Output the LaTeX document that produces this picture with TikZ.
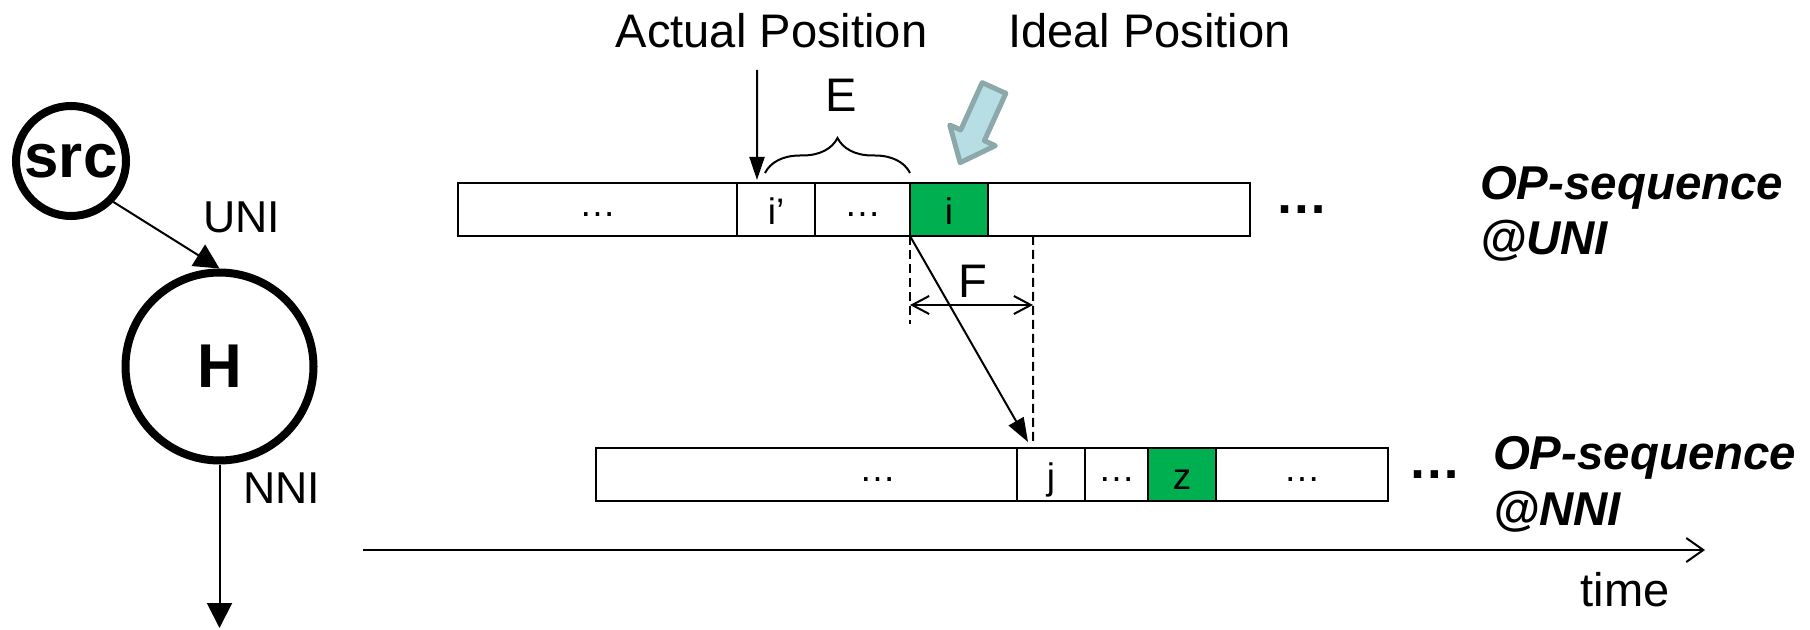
\documentclass[tikz,border=0pt]{standalone}
\usepackage{fontspec}
\setmainfont{Liberation Sans}
\usepackage{tikz}
\usetikzlibrary{arrows.meta, positioning, decorations.pathreplacing}

\definecolor{opgreen}{RGB}{0,176,80}
\definecolor{hintfill}{RGB}{183,222,228}
\definecolor{hintline}{RGB}{140,168,170}

\newcommand{\skipped}{\raisebox{0.08cm}{…}}

\begin{document}
\begin{tikzpicture}[line width=0.02cm, font=\fontsize{13.4pt}{16pt}\selectfont,
		hop/.style={draw, circle, line width=0.08cm, inner sep=0pt, font=\fontsize{17.6pt}{20pt}\selectfont\bfseries},
		port/.style={inner sep=0pt, font=\fontsize{12.7pt}{15pt}\selectfont},
		cell/.style={draw, rectangle, minimum height=0.53cm, inner sep=0pt, outer sep=0pt, text height=0.3cm, text depth=0pt, font=\fontsize{10.5pt}{12pt}\selectfont},
		hit/.style={cell, fill=opgreen},
		more/.style={inner sep=0pt, font=\fontsize{15pt}{18pt}\selectfont\bfseries},
		seq/.style={inner sep=0pt, align=left, font=\fontsize{13.5pt}{15.65pt}\selectfont\bfseries\itshape},
		txt/.style={inner sep=0pt},
		feed/.style={-{Triangle[length=0.25cm, width=0.25cm]}},
		guide/.style={dash pattern=on 0.09cm off 0.05cm}]
		\useasboundingbox (0, 0) rectangle (18.10, 6.29);
		\node[hop, minimum size=1.10cm] (src) at (0.71, 4.68) {src};
		\node[hop, minimum size=1.88cm] (H) at (2.195, 2.625) {H};
		\node[port, anchor=base] (uni) at (2.415, 3.96) {UNI};
		\node[port, anchor=base] (nni) at (2.815, 1.26) {NNI};
		\coordinate (h-out) at (2.195, 0.01);
		\node[cell, minimum width=2.79cm] (uni-pre) at (5.975, 4.195) {\skipped};
		\node[cell, minimum width=0.78cm, right=0pt of uni-pre] (uni-iprime) {i’};
		\node[cell, minimum width=0.95cm, right=0pt of uni-iprime] (uni-gap) {\skipped};
		\node[hit, minimum width=0.78cm, right=0pt of uni-gap] (uni-i) {i};
		\node[cell, minimum width=2.62cm, right=0pt of uni-i] (uni-post) {};
		\node[more, right=0.24cm of uni-post] (uni-more) {…};
		\node[seq, anchor=base west] (uni-name) at (14.79, 3.74) {OP-sequence\\@UNI};
		\node[cell, minimum width=4.21cm] (nni-pre) at (8.065, 1.545) {\hspace*{1.42cm}\skipped};
		\node[cell, minimum width=0.68cm, right=0pt of nni-pre] (nni-j) {j};
		\node[cell, minimum width=0.63cm, right=0pt of nni-j] (nni-gap) {\skipped};
		\node[hit, minimum width=0.68cm, right=0pt of nni-gap] (nni-z) {z};
		\node[cell, minimum width=1.72cm, right=0pt of nni-z] (nni-post) {\skipped};
		\node[more, right=0.19cm of nni-post] (nni-more) {…};
		\node[seq, anchor=base west] (nni-name) at (14.92, 1.04) {OP-sequence\\@NNI};
		\node[txt, anchor=base] (actual) at (7.715, 5.81) {Actual Position};
		\node[txt, anchor=base] (ideal) at (11.495, 5.81) {Ideal Position};
		\node[txt, anchor=base] (E) at (8.41, 5.17) {E};
		\node[txt, anchor=base] (F) at (9.73, 3.31) {F};
		\coordinate (t-start) at (3.63, 0.79);
		\coordinate (t-end) at (17.05, 0.79);
		\node[txt, anchor=base] (time) at (16.25, 0.23) {time};
		\coordinate (ideal-uni) at ([xshift=0.45cm]uni-post.south west);
		\coordinate (ideal-nni) at ([xshift=0.16cm, yshift=0.05cm]nni-j.north west);
		\path [draw, feed] (src.-44) -- (H.north);
		\path [draw, feed] (H) -- (h-out);
		\path [draw, -{Triangle[length=0.23cm, width=0.15cm]}] ([xshift=-0.145cm, yshift=-0.22cm]actual.base) -- ([xshift=0.2cm, yshift=0.03cm]uni-iprime.north west);
		\path [draw, decorate, decoration={brace, amplitude=0.35cm}] ([xshift=0.28cm, yshift=0.1cm]uni-iprime.north west) -- ([yshift=0.1cm]uni-i.north west);
		\path [draw=hintline, fill=hintfill, line width=0.05cm, line join=round, shift={(9.94, 5.41)}, rotate=245.6] (0, 0.13) -- (0.52, 0.13) -- (0.52, 0.25) -- (0.82, 0) -- (0.52, -0.25) -- (0.52, -0.13) -- (0, -0.13) -- cycle;
		\path [draw, guide] (uni-i.south west) -- ++(0, -0.88);
		\path [draw, guide] (ideal-uni) -- (ideal-nni);
		\path [draw, {Straight Barb[length=0.17cm, width=0.18cm]}-{Straight Barb[length=0.17cm, width=0.18cm]}] ([yshift=-0.69cm]uni-i.south west) -- ([yshift=-0.69cm]ideal-uni);
		\path [draw, -{Triangle[length=0.24cm, width=0.17cm]}] (uni-i.south west) -- ([xshift=0.11cm, yshift=0.06cm]nni-j.north west);
		\path [draw, -{Straight Barb[length=0.17cm, width=0.24cm]}] (t-start) -- (t-end);
	\end{tikzpicture}
\end{document}
